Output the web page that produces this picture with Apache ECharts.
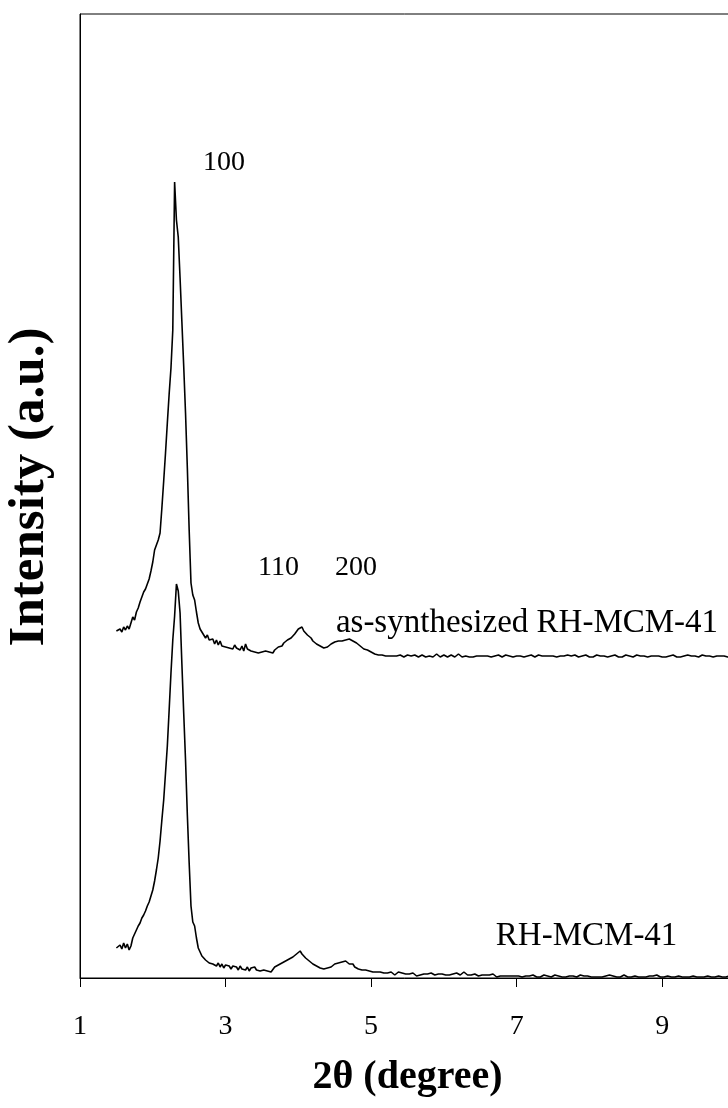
<!DOCTYPE html>
<html><head><meta charset="utf-8">
<script src="https://cdn.jsdelivr.net/npm/echarts@6/dist/echarts.min.js"></script>
<style>html,body{margin:0;padding:0;background:#fff}#c{width:728px;height:1108px}</style>
</head><body><div id="c"></div>
<script>
// 2θ scan grid: start and step (degrees)
const X_START = 1.5;
const X_STEP = 0.025;

// as-synthesized RH-MCM-41 (arbitrary intensity, offset upward)
const asSynthesized = [
347,345,349,346,351,348,352,349,355,361,358,366,370,376,381,386,389,394,399,407,
416,428,433,438,445,470,497,525,555,584,610,648,796,758,741,700,656,612,565,510,
448,395,383,378,366,355,349,346,345,340,343,338,336,339,334,338,333,337,332,334,
331,333,330,332,329,333,330,331,328,332,327,334,329,330,327,329,326,328,325,327,
326,324,327,325,326,324,325,328,330,331,333,332,335,336,338,337,340,342,344,345,
349,347,351,347,349,343,341,340,337,338,334,335,332,333,330,332,331,333,334,335,
336,335,337,338,337,339,338,340,339,337,337,335,335,333,332,331,329,329,328,327,
326,325,324,323,323,
322,323,321,322,323,322,321,322,324,322,321,323,322,321,322,323,321,322,324,323,
322,321,322,323,322,321,323,322,322,321,322,324,322,321,322,323,322,321,322,323,
322,321,323,324,322,321,322,322,323,321,322,321,323,322,321,322,323,322,321,322,
323,321,322,322,321,323,322,321,322,323,321,322,322,321,323,322,321,322,323,321,
322,322,321,323,322,321,322,323,321,322,321,322,323,322,321,322,322,321,323,322,
321,322,322,323,321,322,321,323,322,321,322,322,321,323,322,321,322,321,322,323,
321,322,321,322,323,321,322,322,321,323,322,321,322,321,322,323,321,322,322,321,
322,323,321,322,321,322,322,321,323,322,321,322,321,322,323,321,322,321,322,322,
321,323,322,321,322,321,322,322,321,323,321,322,321,322,322,321,322,323,321,322,
321,322,322,321,323,322,321,322,321,322,322,321,322,321,322,321
];

// RH-MCM-41 (calcined)
const rhMCM41 = [
30,28,33,29,35,30,34,28,32,40,44,48,52,55,60,63,67,72,76,82,
88,97,108,120,137,158,178,205,232,268,305,338,362,394,387,365,314,265,218,163,
115,72,56,52,40,30,26,22,20,18,19,15,17,14,16,12,15,11,14,10,
13,11,12,9,12,10,11,8,12,9,10,8,11,7,10,9,11,8,10,7,
9,8,10,7,9,6,8,11,10,13,12,15,14,17,16,19,18,21,22,24,
23,27,24,26,20,22,17,18,14,16,12,13,10,12,9,11,10,12,11,13,
14,13,15,14,16,15,17,16,14,13,14,11,10,9,10,8,7,8,6,7,
5,6,4,6,5,
6,4,5,7,5,4,6,5,3,5,6,4,5,3,4,6,4,3,5,4,
2,4,3,5,4,3,4,2,5,4,3,5,4,3,4,5,3,4,3,5,
4,3,5,4,3,4,6,4,3,4,3,5,4,3,2,4,3,4,3,2,
3,2,4,3,1,3,2,3,2,4,2,1,2,3,2,1,2,3,1,2,
2,1,2,1,3,2,1,2,1,2,3,1,2,1,1,2,3,1,2,1,
1,2,1,3,2,1,2,1,1,2,3,1,2,1,2,1,1,3,1,2,
1,2,1,1,2,1,3,1,2,1,1,2,1,2,3,1,1,2,1,1,
2,1,1,3,1,2,1,1,2,1,2,1,3,1,1,2,1,1,2,1,
1,2,1,1,2,1,1,3,1,2,1,1,2,1,1,2,1,2,1,1,
2,1,1,2,1,1,2,1,1,2,1,1,2,1,1,2
];

// x axis tick labels
const xTickLabels = ['1','3','5','7','9'];

// text annotations in data coordinates [2θ, intensity, text]
const annoTexts = ['100','110','200','as-synthesized RH-MCM-41','RH-MCM-41'];
const annoX = [2.69, 3.445, 4.503, 4.516, 6.714];
const annoY = [815, 410, 410, 355, 42];
const annoSize = [28, 28, 28, 33, 33];

const toPairs = arr => arr.map((v, i) => [+(X_START + i * X_STEP).toFixed(3), v]);
const FONT = "'Liberation Serif', 'Times New Roman', serif";

const chart = echarts.init(document.getElementById('c'), null, {renderer: 'canvas'});
chart.setOption({
  animation: false,
  backgroundColor: '#fff',
  grid: {left: 80, top: 14, right: -7, bottom: 130, show: true, borderColor: '#000', borderWidth: 1, containLabel: false, outerBoundsMode: 'none'},
  xAxis: {
    type: 'value', min: 1, max: 10, interval: 2,
    name: '2θ (degree)', nameLocation: 'middle', nameGap: 80,
    nameTextStyle: {fontFamily: FONT, fontSize: 40, fontWeight: 'bold', color: '#000'},
    axisLine: {show: true, lineStyle: {color: '#000', width: 1}},
    axisTick: {show: true, inside: false, length: 9, lineStyle: {color: '#000'}},
    axisLabel: {show: true, margin: 35, fontFamily: FONT, fontSize: 28, color: '#000', showMaxLabel: false,
      formatter: v => { const i = xTickLabels.indexOf(String(v)); return i >= 0 ? xTickLabels[i] : ''; }},
    splitLine: {show: false}
  },
  yAxis: {
    type: 'value', min: 0, max: 964,
    name: 'Intensity (a.u.)', nameLocation: 'middle', nameGap: 25,
    nameTextStyle: {fontFamily: FONT, fontSize: 51, fontWeight: 'bold', color: '#000', padding: [0, 0, 0, 18]},
    axisLine: {show: true, lineStyle: {color: '#000', width: 1}},
    axisTick: {show: false}, axisLabel: {show: false}, splitLine: {show: false}
  },
  series: [
    {type: 'line', name: 'as-synthesized RH-MCM-41', data: toPairs(asSynthesized), showSymbol: false, symbol: 'none',
     lineStyle: {color: '#000', width: 1.6}, clip: true},
    {type: 'line', name: 'RH-MCM-41', data: toPairs(rhMCM41), showSymbol: false, symbol: 'none',
     lineStyle: {color: '#000', width: 1.6}, clip: true},
    {type: 'scatter', symbolSize: 0, silent: true, itemStyle: {opacity: 1},
     data: annoTexts.map((t, i) => ({value: [annoX[i], annoY[i], t],
       label: {show: true, position: 'right', distance: 0, formatter: t, fontFamily: FONT, fontSize: annoSize[i], color: '#000', opacity: 1}}))}
  ]
});
</script></body></html>
